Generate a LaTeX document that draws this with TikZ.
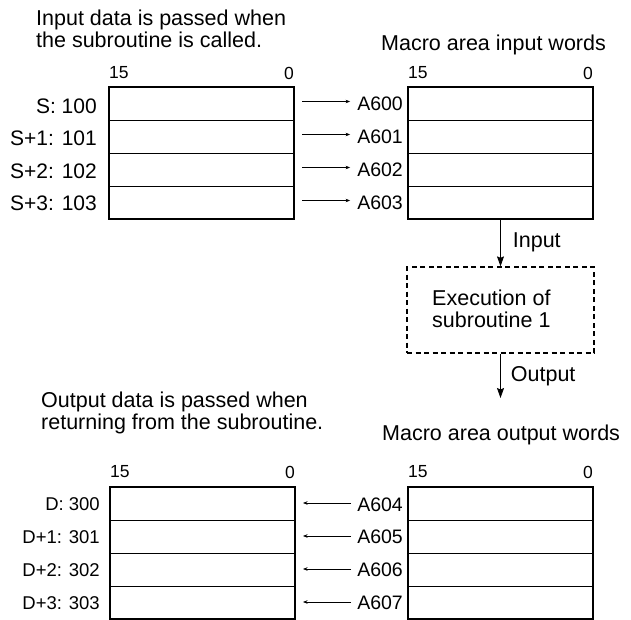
\documentclass[tikz,border=0pt]{standalone}
\usepackage{fontspec}
\setmainfont{Liberation Sans}
\usetikzlibrary{arrows.meta}

\tikzset{
  word/.style={draw,line width=0.6pt,minimum width=185pt,minimum height=33pt,inner sep=0pt,outer sep=0pt},
  frame/.style={line width=1.2pt},
  title/.style={font=\fontsize{21.5}{22}\selectfont,align=left,inner sep=0pt},
  addr/.style={font=\fontsize{19.5}{22}\selectfont,inner sep=0pt},
  saddr/.style={font=\fontsize{21}{22}\selectfont,inner sep=0pt},
  daddr/.style={font=\fontsize{18.5}{22}\selectfont,inner sep=0pt},
  bitno/.style={font=\fontsize{17.5}{20}\selectfont,inner sep=0pt},
  smallarr/.style={line width=0.6pt,-{Stealth[length=4.5pt,width=3.5pt]}},
  bigarr/.style={line width=0.8pt,-{Stealth[length=10pt,width=7pt,inset=1.5pt]}}
}

\begin{document}
\begin{tikzpicture}[x=1pt,y=-1pt]
  \useasboundingbox (0,0) rectangle (631,620);

  % passing of input words
  \node[title,anchor=west] (intitle) at (36,29) {Input data is passed when\\the subroutine is called.};
  \node[title,anchor=west] (mintitle) at (381,45) {Macro area input words};
  \node[word] (s0) at (201.5,103.5) {}; \node[word] (s1) at (201.5,136.5) {};
  \node[word] (s2) at (201.5,169.5) {}; \node[word] (s3) at (201.5,202.5) {};
  \draw[frame] (s0.north west) rectangle (s3.south east);
  \node[word] (m0) at (500.5,103.5) {}; \node[word] (m1) at (500.5,136.5) {};
  \node[word] (m2) at (500.5,169.5) {}; \node[word] (m3) at (500.5,202.5) {};
  \draw[frame] (m0.north west) rectangle (m3.south east);
  \node[bitno,anchor=west] (sb15) at (s0.north west |- 0,73) {15}; \node[bitno,anchor=east] (sb0) at (s0.north east |- 0,73) {0};
  \node[bitno,anchor=west] (mb15) at (m0.north west |- 0,73) {15}; \node[bitno,anchor=east] (mb0) at (m0.north east |- 0,73) {0};
  \node[saddr,anchor=east] (sl0) at (97,106) {S: 100}; \node[saddr,anchor=east] (sl1) at (97,138) {S+1: 101};
  \node[saddr,anchor=east] (sl2) at (97,171) {S+2: 102}; \node[saddr,anchor=east] (sl3) at (97,203.5) {S+3: 103};
  \node[addr,anchor=east] (a0) at (403,104) {A600}; \node[addr,anchor=east] (a1) at (403,137) {A601};
  \node[addr,anchor=east] (a2) at (403,170) {A602}; \node[addr,anchor=east] (a3) at (403,203) {A603};
  \coordinate (i0) at (302,101.5); \coordinate (i1) at (302,134.5); \coordinate (i2) at (302,167.5); \coordinate (i3) at (302,200.5);
  \draw[smallarr,shorten >=7pt] (i0) -- (i0 -| a0.west); \draw[smallarr,shorten >=7pt] (i1) -- (i1 -| a1.west);
  \draw[smallarr,shorten >=7pt] (i2) -- (i2 -| a2.west); \draw[smallarr,shorten >=7pt] (i3) -- (i3 -| a3.west);

  % subroutine call
  \node[draw,dashed,dash pattern=on 5pt off 3.5pt,line width=1.3pt,minimum width=187pt,minimum height=86pt] (exec) at (500.5,310) {};
  \node[title,anchor=west] (exectxt) at (432,309) {Execution of\\subroutine 1};
  \coordinate (outend) at (500.5,398);
  \draw[bigarr] (m3.south) -- (exec.north) node[midway,right=12pt,title] (inlbl) {Input};
  \draw[bigarr] (exec.south) -- (outend) node[midway,right=10pt,title] (outlbl) {Output};

  % passing of output words
  \node[title,anchor=west] (outtitle) at (41,412.5) {Output data is passed when\\returning from the subroutine.};
  \node[title,anchor=west] (mouttitle) at (382,435) {Macro area output words};
  \node[word] (d0) at (202.5,503.5) {}; \node[word] (d1) at (202.5,536.5) {};
  \node[word] (d2) at (202.5,569.5) {}; \node[word] (d3) at (202.5,602.5) {};
  \draw[frame] (d0.north west) rectangle (d3.south east);
  \node[word] (n0) at (500.5,503.5) {}; \node[word] (n1) at (500.5,536.5) {};
  \node[word] (n2) at (500.5,569.5) {}; \node[word] (n3) at (500.5,602.5) {};
  \draw[frame] (n0.north west) rectangle (n3.south east);
  \node[bitno,anchor=west] (db15) at (d0.north west |- 0,472) {15}; \node[bitno,anchor=east] (db0) at (d0.north east |- 0,472) {0};
  \node[bitno,anchor=west] (nb15) at (n0.north west |- 0,472) {15}; \node[bitno,anchor=east] (nb0) at (n0.north east |- 0,472) {0};
  \node[daddr,anchor=east] (dl0) at (100,504.5) {D: 300}; \node[daddr,anchor=east] (dl1) at (100,537) {D+1: 301};
  \node[daddr,anchor=east] (dl2) at (100,570) {D+2: 302}; \node[daddr,anchor=east] (dl3) at (100,603) {D+3: 303};
  \node[addr,anchor=east] (a4) at (403,504.5) {A604}; \node[addr,anchor=east] (a5) at (403,537) {A605};
  \node[addr,anchor=east] (a6) at (403,570) {A606}; \node[addr,anchor=east] (a7) at (403,603) {A607};
  \coordinate (o4) at (303,503); \coordinate (o5) at (303,536); \coordinate (o6) at (303,569); \coordinate (o7) at (303,602);
  \draw[smallarr,shorten <=6pt] (o4 -| a4.west) -- (o4); \draw[smallarr,shorten <=6pt] (o5 -| a5.west) -- (o5);
  \draw[smallarr,shorten <=6pt] (o6 -| a6.west) -- (o6); \draw[smallarr,shorten <=6pt] (o7 -| a7.west) -- (o7);
\end{tikzpicture}
\end{document}
